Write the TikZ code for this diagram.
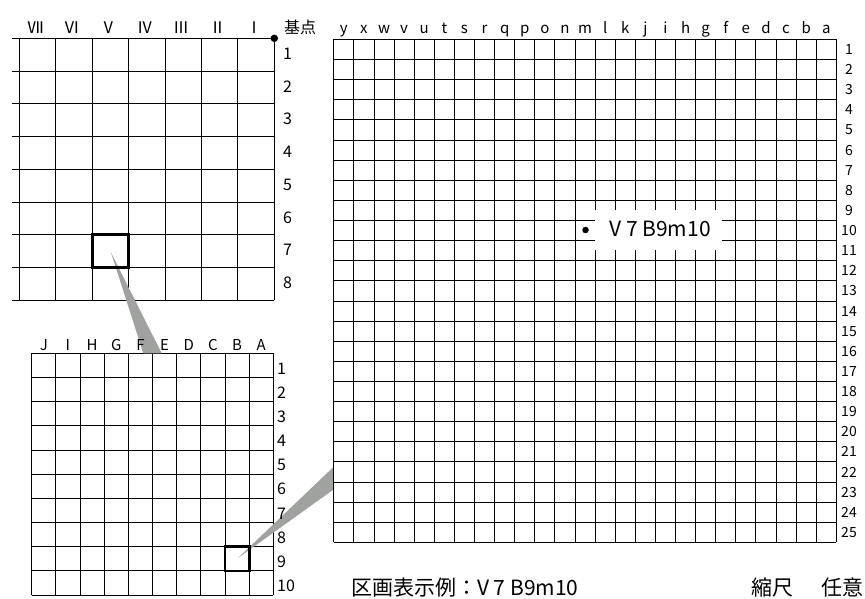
\documentclass[tikz,border=0pt]{standalone}
\usepackage{fontspec}
\setmainfont{Noto Sans CJK JP}
\definecolor{wedgegray}{RGB}{160,162,160}
\begin{document}
\begin{tikzpicture}[x=1pt,y=-1pt,
  gridline/.style={line width=0.9pt, black},
  thickbox/.style={line width=2.8pt, black},
  lbl/.style={inner sep=0pt, font=\fontsize{15}{15}\selectfont},
  lblbig/.style={inner sep=0pt, font=\fontsize{16}{16}\selectfont},
  lblsmall/.style={inner sep=0pt, font=\fontsize{14}{14}\selectfont},
  bigtxt/.style={inner sep=0pt, font=\fontsize{21}{21}\selectfont},
  dotnode/.style={circle, fill=black, inner sep=0pt, minimum size=#1},
]
\useasboundingbox (0,0) rectangle (865,599);

% ---------- top-left grid ----------
\foreach \k in {0,...,8}
  \draw[gridline] (12,{38.3+\k*32.75}) -- (274.3,{38.3+\k*32.75});
\foreach \k in {0,...,7}
  \draw[gridline] ({19.3+\k*36.43},38.3) -- ({19.3+\k*36.43},300.3);

% ---------- bottom-left grid ----------
\foreach \k in {0,...,10}
  \draw[gridline] (31.7,{353.3+\k*24.17}) -- (273.3,{353.3+\k*24.17});
\foreach \k in {0,...,10}
  \draw[gridline] ({31.7+\k*24.16},353.3) -- ({31.7+\k*24.16},595);

% ---------- right grid ----------
\foreach \k in {0,...,25}
  \draw[gridline] (333.8,{39.4+\k*20.12}) -- (836.3,{39.4+\k*20.12});
\foreach \k in {0,...,25}
  \draw[gridline] ({333.8+\k*20.1},39.4) -- ({333.8+\k*20.1},542.4);

% ---------- wedges ----------
\fill[wedgegray] (111,252.5) -- (143.3,353.3) -- (161.7,353.3) -- cycle;
\fill[wedgegray] (238,558) -- (333.8,466.7) -- (333.8,489.3) -- cycle;
\draw[gridline] (333.8,459.9) -- (333.8,500.1);

% ---------- thick boxes ----------
\draw[thickbox] (92.16,234.8) rectangle (128.6,267.55);
\draw[thickbox] (225,546.7) rectangle (249.1,570.9);

% ---------- top-left labels ----------
\foreach \t [count=\i from 0] in {Ⅶ,Ⅵ,Ⅴ,Ⅳ,Ⅲ,Ⅱ,Ⅰ}
  \node[lblbig, anchor=base] (tlc\i) at ({19.3+(\i+0.5)*36.43-2},33.3) {\t};
\foreach \i in {1,...,8}
  \node[lblbig] (tlr\i) at (287.5,{38.3+(\i-0.5)*32.75-1}) {\i};
\node[lblbig, anchor=base] (kiten) at (300,34) {基点};
\node[dotnode=7.5pt] (basept) at (274.3,38.3) {};

% ---------- bottom-left labels ----------
\foreach \t [count=\i from 0] in {J,I,H,G,F,E,D,C,B,A}
  \node[lbl, anchor=base] (blc\i) at ({31.7+(\i+0.5)*24.16},350) {\t};
\foreach \i in {1,...,10}
  \node[lblbig, anchor=west] (blr\i) at (277,{353.3+(\i-0.5)*24.17+3}) {\i};

% ---------- right labels ----------
\foreach \t [count=\i from 0] in {y,x,w,v,u,t,s,r,q,p,o,n,m,l,k,j,i,h,g,f,e,d,c,b,a}
  \node[lbl, anchor=base] (rc\i) at ({333.8+(\i+0.5)*20.1},34) {\t};
\foreach \i in {1,...,25}
  \node[lblsmall] (rr\i) at (849,{39.4+(\i-0.5)*20.12}) {\i};

% ---------- example label ----------
\fill[white] (595,210) rectangle (722,250);
\node[bigtxt, anchor=base] (example) at (660,236.7) {V 7 B9m10};
\node[dotnode=6.5pt] (exdot) at (585.5,230) {};

% ---------- bottom texts ----------
\node[bigtxt, anchor=base west] (legend) at (351,595) {区画表示例：V 7 B9m10};
\node[bigtxt, anchor=base west] (scale) at (751,595) {縮尺\hspace{28pt}任意};
\end{tikzpicture}
\end{document}
